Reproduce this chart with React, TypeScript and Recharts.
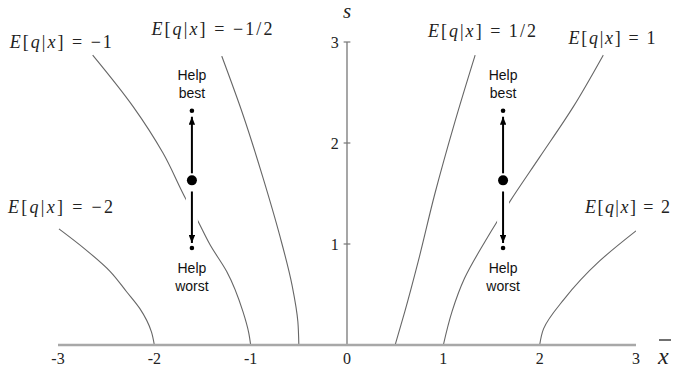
import React from "react";
import {
  ComposedChart,
  Line,
  Scatter,
  XAxis,
  YAxis,
  ReferenceLine,
  ReferenceDot,
} from "recharts";

// axis ticks
const xTicks = [-3, -2, -1, 0, 1, 2, 3];
const yTicks = [1, 2, 3];

// level curves E[q|x] = c (x, s)
const curveNeg2 = [
  { x: -2.0, y: 0 }, { x: -2.03, y: 0.13 }, { x: -2.15, y: 0.36 }, { x: -2.29, y: 0.53 },
  { x: -2.46, y: 0.73 }, { x: -2.72, y: 0.95 }, { x: -2.99, y: 1.15 },
];
const curveNeg1 = [
  { x: -1.0, y: 0 }, { x: -1.02, y: 0.12 }, { x: -1.08, y: 0.33 }, { x: -1.25, y: 0.73 },
  { x: -1.42, y: 0.99 }, { x: -1.56, y: 1.25 }, { x: -1.67, y: 1.44 }, { x: -1.91, y: 1.9 },
  { x: -2.22, y: 2.36 }, { x: -2.64, y: 2.87 },
];
const curveNegHalf = [
  { x: -0.5, y: 0 }, { x: -0.51, y: 0.23 }, { x: -0.57, y: 0.59 }, { x: -0.7, y: 1.09 },
  { x: -0.87, y: 1.65 }, { x: -1.08, y: 2.28 }, { x: -1.3, y: 2.86 },
];
const curvePosHalf = [
  { x: 0.5, y: 0 }, { x: 0.53, y: 0.1 }, { x: 0.6, y: 0.33 }, { x: 0.74, y: 0.83 },
  { x: 0.91, y: 1.49 }, { x: 1.12, y: 2.21 }, { x: 1.33, y: 2.87 },
];
const curvePos1 = [
  { x: 1.0, y: 0 }, { x: 1.09, y: 0.33 }, { x: 1.22, y: 0.66 }, { x: 1.43, y: 1.02 },
  { x: 1.57, y: 1.24 }, { x: 1.69, y: 1.42 }, { x: 2.0, y: 1.86 }, { x: 2.35, y: 2.36 },
  { x: 2.66, y: 2.87 },
];
const curvePos2 = [
  { x: 2.0, y: 0 }, { x: 2.04, y: 0.16 }, { x: 2.25, y: 0.45 }, { x: 2.62, y: 0.83 },
  { x: 3.0, y: 1.13 },
];

// current point and the two "help" directions
const dotsBig = [{ x: -1.61, y: 1.63 }, { x: 1.62, y: 1.63 }];
const dotsBest = [{ x: -1.61, y: 2.32 }, { x: 1.62, y: 2.32 }];
const dotsWorst = [{ x: -1.61, y: 0.96 }, { x: 1.62, y: 0.96 }];
const arrowUpLeft = [{ x: -1.61, y: 1.7 }, { x: -1.61, y: 2.26 }];
const arrowDownLeft = [{ x: -1.61, y: 1.52 }, { x: -1.61, y: 1.01 }];
const arrowUpRight = [{ x: 1.62, y: 1.7 }, { x: 1.62, y: 2.26 }];
const arrowDownRight = [{ x: 1.62, y: 1.52 }, { x: 1.62, y: 1.01 }];
const gapLeft = [{ x: -1.61, y: 1.1 }, { x: -1.61, y: 1.5 }];
const gapRight = [{ x: 1.62, y: 1.1 }, { x: 1.62, y: 1.5 }];

const serif = "Liberation Serif";
const sans = "Liberation Sans";

const curveLabels = [
  { value: "\u22121", x: -3.5, y: 2.94, w: 102 },
  { value: "\u22121/2", x: -2.03, y: 3.07, w: 121 },
  { value: "\u22122", x: -3.52, y: 1.31, w: 105 },
  { value: "1/2", x: 0.84, y: 3.05, w: 108 },
  { value: "1", x: 2.3, y: 2.98, w: 87 },
  { value: "2", x: 2.47, y: 1.31, w: 85 },
];

function mathLabel(value: string, w: number) {
  return (props: any) => {
    const vb = props.viewBox || {};
    return (
      <text
        x={vb.x}
        y={vb.y}
        fontFamily={serif}
        fontSize={18}
        fill="#222"
        textLength={w}
        lengthAdjust="spacing"
      >
        <tspan fontStyle="italic">E</tspan>
        <tspan>[</tspan>
        <tspan fontStyle="italic">q</tspan>
        <tspan>|</tspan>
        <tspan fontStyle="italic">x</tspan>
        <tspan>{"] = " + value}</tspan>
      </text>
    );
  };
}

function helpLabel(second: string, above: boolean) {
  return (props: any) => {
    const vb = props.viewBox || {};
    const y0 = above ? vb.y - 31 : vb.y + 25;
    return (
      <text x={vb.x} y={y0} textAnchor="middle" fontFamily={sans} fontSize={14} fill="#111">
        <tspan x={vb.x}>Help</tspan>
        <tspan x={vb.x} dy={18}>{second}</tspan>
      </text>
    );
  };
}

const curveStyle = { stroke: "#666", strokeWidth: 1.1 };

export default function App() {
  return (
    <div style={{ position: "absolute", left: 0, top: 0, background: "#fff" }}>
      <ComposedChart width={673} height={375} margin={{ top: 42, right: 37, left: 58, bottom: 0 }}>
        <defs>
          <marker
            id="arrowHead"
            viewBox="0 0 10 8"
            refX={10}
            refY={4}
            markerWidth={8}
            markerHeight={6.4}
            markerUnits="userSpaceOnUse"
            orient="auto"
          >
            <path d="M0,0 L10,4 L0,8 z" fill="#000" />
          </marker>
        </defs>
        <XAxis
          type="number"
          dataKey="x"
          domain={[-3, 3]}
          ticks={xTicks}
          allowDataOverflow
          height={30}
          axisLine={{ stroke: "#a8a8a8", strokeWidth: 2.5 }}
          tickLine={false}
          tick={{ fontFamily: serif, fontSize: 16, fill: "#222" }}
          label={(props: any) => {
            const vb = props.viewBox || {};
            const x0 = vb.x + vb.width + 22;
            return (
              <g>
                <text x={x0} y={vb.y + 19} fontFamily={serif} fontStyle="italic" fontSize={24} fill="#222">
                  x
                </text>
                <line x1={x0 + 1} x2={x0 + 13} y1={vb.y - 5} y2={vb.y - 5} stroke="#222" strokeWidth={1.3} />
              </g>
            );
          }}
        />
        <YAxis type="number" dataKey="y" domain={[0, 3]} allowDataOverflow hide />
        <ReferenceLine
          x={0}
          stroke="#777"
          strokeWidth={1.3}
          label={(props: any) => {
            const vb = props.viewBox || {};
            return (
              <text x={vb.x} y={vb.y - 24} textAnchor="middle" fontFamily={serif} fontStyle="italic" fontSize={21} fill="#222">
                s
              </text>
            );
          }}
        />
        {yTicks.map((t) => (
          <ReferenceLine
            key={t}
            segment={[{ x: -0.035, y: t }, { x: 0.035, y: t }]}
            stroke="#777"
            strokeWidth={1.2}
            label={(props: any) => {
              const vb = props.viewBox || {};
              return (
                <text x={vb.x - 5} y={vb.y + 6} textAnchor="end" fontFamily={serif} fontSize={16} fill="#222">
                  {t}
                </text>
              );
            }}
          />
        ))}

        <Line data={curveNeg2} dataKey="y" type="monotoneY" {...curveStyle} dot={false} activeDot={false} isAnimationActive={false} />
        <Line data={curveNeg1} dataKey="y" type="monotoneY" {...curveStyle} dot={false} activeDot={false} isAnimationActive={false} />
        <Line data={curveNegHalf} dataKey="y" type="monotoneY" {...curveStyle} dot={false} activeDot={false} isAnimationActive={false} />
        <Line data={curvePosHalf} dataKey="y" type="monotoneY" {...curveStyle} dot={false} activeDot={false} isAnimationActive={false} />
        <Line data={curvePos1} dataKey="y" type="monotoneY" {...curveStyle} dot={false} activeDot={false} isAnimationActive={false} />
        <Line data={curvePos2} dataKey="y" type="monotoneY" {...curveStyle} dot={false} activeDot={false} isAnimationActive={false} />

        {/* white band where the arrows cut through the E = ±1 curves */}
        <Line data={gapLeft} dataKey="y" stroke="#fff" strokeWidth={12} dot={false} activeDot={false} isAnimationActive={false} />
        <Line data={gapRight} dataKey="y" stroke="#fff" strokeWidth={12} dot={false} activeDot={false} isAnimationActive={false} />

        {[arrowUpLeft, arrowDownLeft, arrowUpRight, arrowDownRight].map((a, i) => (
          <Line
            key={i}
            data={a}
            dataKey="y"
            stroke="#000"
            strokeWidth={2}
            markerEnd="url(#arrowHead)"
            dot={false}
            activeDot={false}
            isAnimationActive={false}
          />
        ))}

        <Scatter data={dotsBig} fill="#000" isAnimationActive={false} shape={(p: any) => <circle cx={p.cx} cy={p.cy} r={5} fill="#000" />} />
        <Scatter
          data={[...dotsBest, ...dotsWorst]}
          fill="#000"
          isAnimationActive={false}
          shape={(p: any) => <circle cx={p.cx} cy={p.cy} r={2.3} fill="#000" />}
        />

        {dotsBest.map((d, i) => (
          <ReferenceDot key={"b" + i} x={d.x} y={d.y} r={0} stroke="none" ifOverflow="visible" label={helpLabel("best", true)} />
        ))}
        {dotsWorst.map((d, i) => (
          <ReferenceDot key={"w" + i} x={d.x} y={d.y} r={0} stroke="none" ifOverflow="visible" label={helpLabel("worst", false)} />
        ))}
        {curveLabels.map((l) => (
          <ReferenceDot key={l.value} x={l.x} y={l.y} r={0} stroke="none" ifOverflow="visible" label={mathLabel(l.value, l.w)} />
        ))}
      </ComposedChart>
    </div>
  );
}
